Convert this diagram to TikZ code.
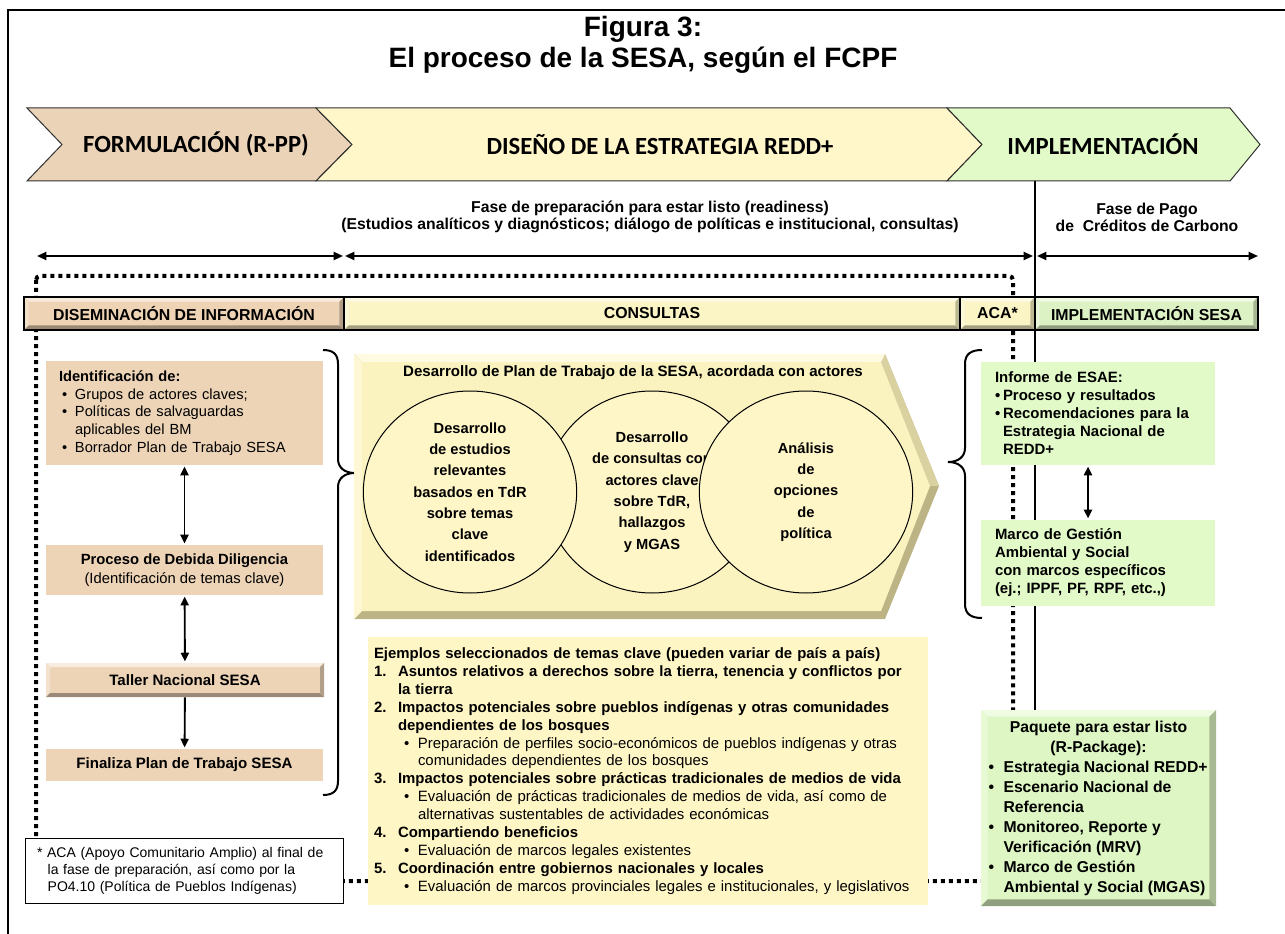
\documentclass[tikz,border=0pt]{standalone}
\usepackage{fontspec}
\setmainfont{Liberation Sans}
\newfontfamily\chevfont{Carlito}
\usetikzlibrary{positioning,calc,shapes.geometric,arrows.meta}

\definecolor{ChevTan}{HTML}{EBD3B8}
\definecolor{ChevYellow}{HTML}{FFF6CA}
\definecolor{ChevGreen}{HTML}{E1FAC7}
\definecolor{ChevEdge}{HTML}{303030}
\definecolor{TanBox}{HTML}{EDD4B7}
\definecolor{BarTan}{HTML}{EED3B4}
\definecolor{BarYellow}{HTML}{FBF4C4}
\definecolor{BarGreen}{HTML}{DDF2C4}
\definecolor{PentFace}{HTML}{FAF2BF}
\definecolor{PentLight}{HTML}{FFFBE2}
\definecolor{PentMid}{HTML}{D9D1A0}
\definecolor{PentDark}{HTML}{BDB486}
\definecolor{CircFill}{HTML}{FFF6C8}
\definecolor{ExFill}{HTML}{FFF6C6}
\definecolor{GreenBox}{HTML}{E2FAC8}
\definecolor{RpkGreen}{HTML}{DDF6C3}

\newcommand{\bulit}{\hspace*{2.25pt}\makebox[9.75pt][l]{\textbullet}}
\newcommand{\numit}[1]{\makebox[18pt][l]{#1}}
\newcommand{\subit}{\hspace*{22.5pt}\makebox[10.5pt][l]{\textbullet}}
\newcommand{\gbul}{\makebox[6pt][l]{\textbullet}}
\newcommand{\pkline}[1]{\makebox[165pt][l]{\makebox[11.25pt][l]{\textbullet}#1}}
\newcommand{\pkcont}[1]{\makebox[165pt][l]{\hspace*{11.25pt}#1}}

\tikzset{
  bevel/.style 2 args={fill=#1, path picture={
    \fill[#1!45!white] (path picture bounding box.north west) -- (path picture bounding box.north east)
      -- ([shift={(-#2,-#2)}]path picture bounding box.north east) -- ([shift={(#2,-#2)}]path picture bounding box.north west) -- cycle;
    \fill[#1!70!white] (path picture bounding box.north west) -- (path picture bounding box.south west)
      -- ([shift={(#2,#2)}]path picture bounding box.south west) -- ([shift={(#2,-#2)}]path picture bounding box.north west) -- cycle;
    \fill[#1!65!black] (path picture bounding box.south west) -- (path picture bounding box.south east)
      -- ([shift={(-#2,#2)}]path picture bounding box.south east) -- ([shift={(#2,#2)}]path picture bounding box.south west) -- cycle;
    \fill[#1!75!black] (path picture bounding box.north east) -- (path picture bounding box.south east)
      -- ([shift={(-#2,#2)}]path picture bounding box.south east) -- ([shift={(-#2,-#2)}]path picture bounding box.north east) -- cycle;
  }}
}

\begin{document}
\begin{tikzpicture}[x=0.75pt,y=-0.75pt,
  every node/.style={font=\fontsize{11}{13.3}\selectfont},
  chev/.style={draw=ChevEdge,line width=0.75pt},
  chevlabel/.style={font=\chevfont\bfseries\fontsize{18.5}{21}\selectfont},
  title/.style={align=center,font=\bfseries\fontsize{21}{23.25}\selectfont},
  phase/.style={align=center,font=\bfseries\fontsize{11.8}{12.75}\selectfont},
  span/.style={{Triangle[length=7pt,width=6pt]}-{Triangle[length=7pt,width=6pt]},line width=1.5pt},
  link/.style={-{Triangle[length=6.5pt,width=6pt]},line width=1.4pt,shorten >=1pt},
  dlink/.style={{Triangle[length=6.5pt,width=6pt]}-{Triangle[length=6.5pt,width=6pt]},line width=1.4pt,shorten <=1pt,shorten >=1pt},
  dotloop/.style={line width=3pt,dash pattern=on 3pt off 3pt,rounded corners=3pt},
  barseg/.style={draw=black,line width=0.9pt,bevel={#1}{3.5pt},minimum height=24.75pt,inner sep=0pt,
    font=\bfseries\fontsize{11.9}{13}\selectfont},
  tanbox/.style={fill=TanBox,minimum width=207.75pt,inner sep=0pt},
  greenbox/.style={fill=GreenBox,minimum width=175.5pt,inner xsep=10.5pt,text width=154.5pt,align=left,
    font=\bfseries\fontsize{11.2}{13.5}\selectfont},
  bubble/.style={ellipse,draw=black,line width=0.75pt,fill=CircFill,minimum width=160pt,minimum height=151.5pt,
    inner sep=0pt,align=center,font=\bfseries\fontsize{11}{16}\selectfont}]
\useasboundingbox (0,0) rectangle (1285,934);

% frame and title
\draw[line width=1.5pt] (8,934) -- (8,10) -- (1290,10);
\node[title] (ttl) at (643,45) {Figura 3:\\El proceso de la SESA, según el FCPF};

% phase chevrons
\draw[chev,fill=ChevTan] (27,108) -- (316,108) -- (352,144.5) -- (316,181) -- (27,181) -- (62,144.5) -- cycle;
\draw[chev,fill=ChevYellow] (316,108) -- (947,108) -- (982,144.5) -- (947,181) -- (316,181) -- (352,144.5) -- cycle;
\draw[chev,fill=ChevGreen] (947,108) -- (1230,108) -- (1260,144.5) -- (1230,181) -- (947,181) -- (982,144.5) -- cycle;
\node[chevlabel] (formul) at (196,144.5) {FORMULACIÓN (R-PP)};
\node[chevlabel] (diseno) at (660,144.5) {DISEÑO DE LA ESTRATEGIA REDD+};
\node[chevlabel] (implem) at (1103,144.5) {IMPLEMENTACIÓN};

% phases
\node[phase] (prep) at (650,217) {Fase de preparación para estar listo (readiness)\\
  (Estudios analíticos y diagnósticos; diálogo de políticas e institucional, consultas)};
\node[phase] (pago) at (1147,217) {Fase de Pago\\de\ \ Créditos de Carbono};

\coordinate (a1l) at (37,256);
\coordinate (a1r) at (343,256);
\coordinate (a2l) at (345,256);
\coordinate (a2r) at (1033,256);
\coordinate (a3l) at (1037,256);
\coordinate (a3r) at (1258,256);
\draw[span] (a1l) -- (a1r);
\draw[span] (a2l) -- (a2r);
\draw[span] (a3l) -- (a3r);

% dotted loop and the implementation line
\draw[dotloop] (36,276) rectangle (1013,881);
\coordinate (impltop) at (1035,181);
\coordinate (impldown) at (1035,710);
\draw[line width=1.5pt] (impltop) -- (impldown);

% bar
\node[barseg=BarTan,minimum width=240pt] (disem) at (184,313.5) {DISEMINACIÓN DE INFORMACIÓN};
\node[barseg=BarYellow,minimum width=462pt] (consul) at (652,313.5) {CONSULTAS};
\node[barseg=BarYellow,minimum width=56.25pt] (aca) at (997.5,313.5) {ACA*};
\node[barseg=BarGreen,minimum width=167.25pt] (implsesa) at (1146.5,313.5) {IMPLEMENTACIÓN SESA};

% left column
\node[tanbox,minimum height=78pt,inner xsep=9.75pt,text width=188.25pt,align=left] (ident) at (184.5,413) {%
  \textbf{Identificación de:}\\
  \bulit Grupos de actores claves;\\
  \bulit Políticas de salvaguardas\\
  \hspace*{12pt}aplicables del BM\\
  \bulit Borrador Plan de Trabajo SESA};
\node[tanbox,minimum height=37.5pt,align=center,font=\fontsize{11.1}{14.25}\selectfont] (debida) at (184.5,570)
  {\textbf{Proceso de Debida Diligencia}\\(Identificación de temas clave)};
\node[bevel={TanBox}{3pt},minimum width=208.5pt,minimum height=25.5pt,inner sep=0pt,font=\bfseries\fontsize{11.3}{12}\selectfont]
  (taller) at (185,680) {Taller Nacional SESA};
\node[tanbox,minimum height=24pt,font=\bfseries\fontsize{11.3}{12}\selectfont] (finaliza) at (184.5,765) {Finaliza Plan de Trabajo SESA};
\draw[dlink] (ident) -- (debida);
\draw[dlink] (debida) -- (taller);
\draw[link] (taller) -- (finaliza);

\draw[line width=1.5pt] (323,350) .. controls (333,350) and (338,354) .. (338,364) -- (338,459)
  .. controls (338,468) and (345,473) .. (355,473) .. controls (345,473) and (338,478) .. (338,487)
  -- (338,781) .. controls (338,791) and (333,795) .. (323,795);

% work plan arrow with its three steps
\fill[PentDark] (354,354) -- (885,354) -- (939,486) -- (885,619) -- (354,619) -- cycle;
\fill[PentMid] (885,354) -- (939,486) -- (930,486) -- (881,362) -- cycle;
\fill[PentLight] (354,354) -- (885,354) -- (881,362) -- (362,362) -- cycle;
\fill[PentLight!60!PentFace] (354,354) -- (362,362) -- (362,611) -- (354,619) -- cycle;
\fill[PentFace] (362,362) -- (881,362) -- (930,486) -- (881,611) -- (362,611) -- cycle;
\node[font=\bfseries\fontsize{11.3}{12}\selectfont] (plan) at (633,373) {Desarrollo de Plan de Trabajo de la SESA, acordada con actores};
\node[bubble] (consb) at (652,492) {Desarrollo\\de consultas con\\actores clave\\sobre TdR,\\hallazgos\\y MGAS};
\node[bubble] (estud) at (470,492) {Desarrollo\\de estudios\\relevantes\\basados en TdR\\sobre temas\\clave\\identificados};
\node[bubble] (analis) at (806,492) {Análisis\\de\\opciones\\de\\política};

% right column
\draw[line width=1.5pt] (982,350) .. controls (971,350) and (965,354) .. (965,364) -- (965,448)
  .. controls (965,457) and (958,462) .. (948,462) .. controls (958,462) and (965,467) .. (965,476)
  -- (965,604) .. controls (965,614) and (971,618) .. (982,618);
\node[greenbox,minimum height=77.25pt] (esae) at (1098,413.5) {Informe de ESAE:\\
  \gbul Proceso y resultados\\
  \gbul Recomendaciones para la\\
  \hspace*{6pt}Estrategia Nacional de\\
  \hspace*{6pt}REDD+};
\node[greenbox,minimum height=64.5pt] (marco) at (1098,563) {Marco de Gestión\\Ambiental y Social\\con marcos específicos\\(ej.; IPPF, PF, RPF, etc.,)};
\draw[dlink] ([xshift=-7.5pt]esae.south) -- ([xshift=-7.5pt]marco.north);

% examples of key issues
\node[fill=ExFill,minimum width=420pt,minimum height=201pt,inner xsep=4.5pt,text width=411pt,align=left,
  font=\fontsize{11.2}{13.4}\selectfont] (ejem) at (648,771) {%
  \textbf{Ejemplos seleccionados de temas clave (pueden variar de país a país)}\\
  \textbf{\numit{1.}Asuntos relativos a derechos sobre la tierra, tenencia y conflictos por}\\
  \textbf{\hspace*{18pt}la tierra}\\
  \textbf{\numit{2.}Impactos potenciales sobre pueblos indígenas y otras comunidades}\\
  \textbf{\hspace*{18pt}dependientes de los bosques}\\
  \subit Preparación de perfiles socio-económicos de pueblos indígenas y otras\\
  \hspace*{33pt}comunidades dependientes de los bosques\\
  \textbf{\numit{3.}Impactos potenciales sobre prácticas tradicionales de medios de vida}\\
  \subit Evaluación de prácticas tradicionales de medios de vida, así como de\\
  \hspace*{33pt}alternativas sustentables de actividades económicas\\
  \textbf{\numit{4.}Compartiendo beneficios}\\
  \subit Evaluación de marcos legales existentes\\
  \textbf{\numit{5.}Coordinación entre gobiernos nacionales y locales}\\
  \subit Evaluación de marcos provinciales legales e institucionales, y legislativos};

\node[draw=black,line width=0.75pt,fill=white,minimum width=238.5pt,minimum height=48.75pt,inner xsep=9pt,
  text width=220.5pt,align=left,font=\fontsize{10.5}{12.75}\selectfont] (nota) at (184,870.5) {%
  * ACA (Apoyo Comunitario Amplio) al final de\\
  \hspace*{8pt}la fase de preparación, así como por la\\
  \hspace*{8pt}PO4.10 (Política de Pueblos Indígenas)};

\node[bevel={RpkGreen}{5pt},minimum width=176.25pt,minimum height=147pt,inner sep=0pt,align=center,
  font=\bfseries\fontsize{11.8}{15}\selectfont] (rpkg) at (1098.5,808) {%
  Paquete para estar listo\\(R-Package):\\
  \pkline{Estrategia Nacional REDD+}\\
  \pkline{Escenario Nacional de}\\
  \pkcont{Referencia}\\
  \pkline{Monitoreo, Reporte y}\\
  \pkcont{Verificación (MRV)}\\
  \pkline{Marco de Gestión}\\
  \pkcont{Ambiental y Social (MGAS)}};
\end{tikzpicture}
\end{document}
